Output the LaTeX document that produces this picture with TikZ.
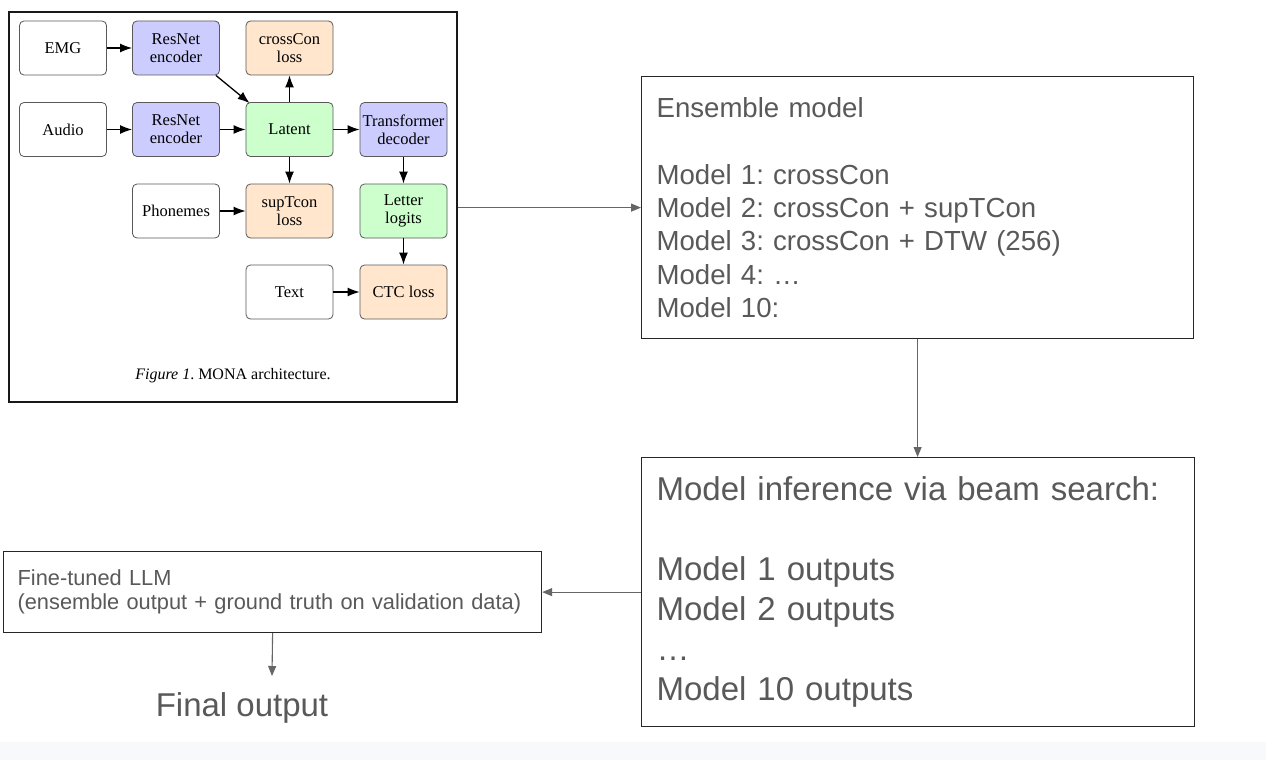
\documentclass[tikz,border=0pt]{standalone}
\usepackage{fontspec}
\setmainfont{Liberation Sans}
\newfontfamily\serifface{Liberation Serif}
\usetikzlibrary{arrows.meta}
\frenchspacing
\definecolor{txtgray}{HTML}{595959}
\definecolor{lingray}{HTML}{666666}
\definecolor{encblue}{HTML}{CCCCFF}
\definecolor{lossorange}{HTML}{FFE6CC}
\definecolor{latgreen}{HTML}{CCFFCC}
\definecolor{stripgray}{HTML}{F8F9FA}
\begin{document}
\begin{tikzpicture}[x=1pt,y=-1pt,
  mbox/.style={draw=black!65, line width=0.8pt, rounded corners=4.5pt, minimum width=87pt, minimum height=54pt, inner sep=1pt, align=center, font=\serifface\fontsize{16.5}{18.3}\selectfont},
  encbox/.style={mbox, fill=encblue},
  lossbox/.style={mbox, fill=lossorange},
  latbox/.style={mbox, fill=latgreen},
  inbox/.style={mbox, fill=white},
  farr/.style={-{Latex[length=12pt,width=9pt]}, line width=1.3pt, black},
  garr/.style={-{Triangle[length=10pt,width=8pt]}, line width=1.1pt, lingray},
  gbox/.style={draw=black!85, line width=1.2pt, inner ysep=0pt, inner xsep=15pt, text=txtgray, align=left, anchor=north west}
]
\fill[white] (0,0) rectangle (1266,760);
\useasboundingbox (0,0) rectangle (1266,760);
\fill[stripgray] (0,742) rectangle (1266,760);

% left figure frame
\node[draw=black!90, line width=1.6pt, minimum width=448pt, minimum height=390pt, inner sep=0pt] (fig) at (233,207) {};

\node[inbox] (emg) at (63,48) {EMG};
\node[encbox] (r1) at (176,48) {ResNet\\encoder};
\node[lossbox] (cc) at (289.5,48) {crossCon\\loss};
\node[inbox] (aud) at (63,129.5) {Audio};
\node[encbox] (r2) at (176,129.5) {ResNet\\encoder};
\node[latbox] (lat) at (289.5,129.5) {Latent};
\node[encbox] (tr) at (403.5,129.5) {Transformer\\decoder};
\node[inbox] (ph) at (176,211) {Phonemes};
\node[lossbox] (st) at (289.5,211) {supTcon\\loss};
\node[latbox] (ll) at (403.5,211) {Letter\\logits};
\node[inbox] (tx) at (289.5,292) {Text};
\node[lossbox] (ctc) at (403.5,292) {CTC loss};
\node[font=\serifface\fontsize{16}{18}\selectfont] (cap) at (233,376) {\textit{Figure 1}. MONA architecture.};

\draw[farr] (emg) -- (r1);
\draw[farr] (aud) -- (r2);
\draw[farr] (r2) -- (lat);
\draw[farr] (lat) -- (tr);
\draw[farr] ([xshift=-4pt]r1.south east) -- ([xshift=4pt,yshift=-1pt]lat.north west);
\draw[farr] (lat) -- (cc);
\draw[farr] (lat) -- (st);
\draw[farr] (ph) -- (st);
\draw[farr] (tr) -- (ll);
\draw[farr] (ll) -- (ctc);
\draw[farr] (tx) -- (ctc);

% right side
\node[gbox, minimum width=552pt, minimum height=262pt, text width=522pt,
      font=\fontsize{27.6}{33.3}\selectfont] (ens) at (641,76)
  {Ensemble model\\[33.3pt]Model 1: crossCon\\Model 2: crossCon + supTCon\\Model 3: crossCon + DTW (256)\\Model 4: …\\Model 10:};

\node[gbox, minimum width=553pt, minimum height=269pt, text width=523pt,
      font=\fontsize{33}{40}\selectfont] (inf) at (641,457)
  {Model inference via beam search:\\[40pt]Model 1 outputs\\Model 2 outputs\\…\\Model 10 outputs};

\node[gbox, inner xsep=14pt, minimum width=538pt, minimum height=81pt, text width=510pt,
      font=\fontsize{21.8}{24.5}\selectfont] (llm) at (3,551)
  {Fine-tuned LLM\\(ensemble output + ground truth on validation data)};

\node[text=txtgray, font=\fontsize{33}{38}\selectfont] (fo) at (242,708) {Final output};
\coordinate (foin) at (272,676);

\draw[garr] (fig.east |- ens.west) -- (ens.west);
\draw[garr] (ens.south) -- (ens.south |- inf.north);
\draw[garr] (inf.west) -- (inf.west -| llm.east);
\draw[garr] (llm.south) -- (foin);
\end{tikzpicture}
\end{document}
